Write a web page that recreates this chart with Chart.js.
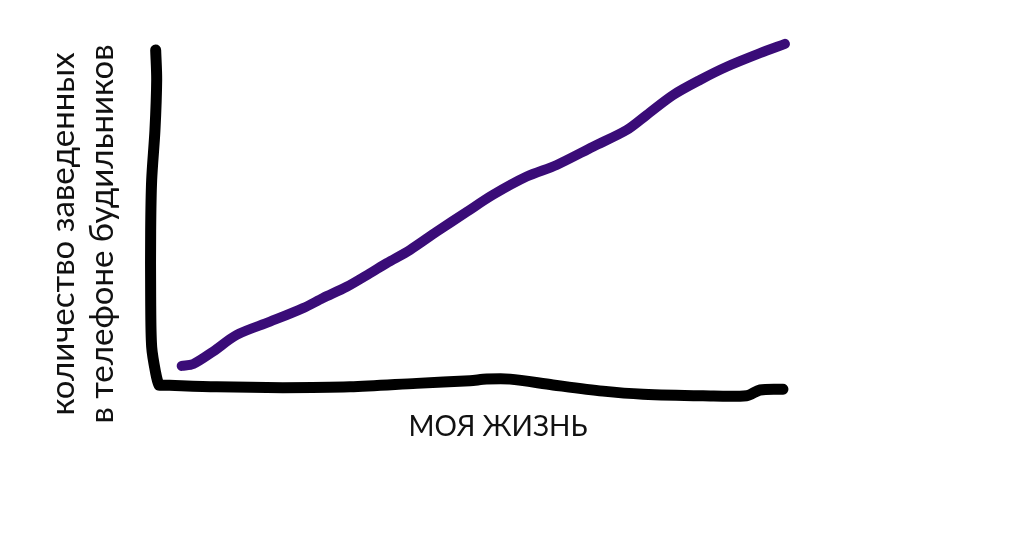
<!DOCTYPE html>
<html lang="ru">
<head>
<meta charset="utf-8">
<title>будильники</title>
<script src="https://cdn.jsdelivr.net/npm/chart.js@4.4.1/dist/chart.umd.min.js"></script>
<style>
  html, body { margin: 0; padding: 0; background: #fff; }
  #wrap { width: 1024px; height: 538px; }
</style>
</head>
<body>
<div id="wrap"><canvas id="chart" width="1024" height="538"></canvas></div>
<script>
// hand-drawn axes (one stroke: down the y axis, then along the x axis)
const axisX = [2.19, 2.33, 2.09, 1.63, 1.49, 1.49, 1.63, 2.19, 2.65,
  3.03, 10.71, 19.97, 29.33, 38.65, 46.09, 48.42, 51.68, 57.68, 64.66, 70.25, 78.63, 84.73, 86.59, 89.8];
const axisY = [97.4, 89.7, 76.8, 63.9, 51.0, 33.8, 20.9, 14.2, 11.1,
  11.1, 10.6, 10.4, 10.6, 11.5, 12.2, 12.6, 12.6, 11.1, 9.5, 8.7, 8.3, 8.3, 9.8, 10.0];

// alarms set on the phone vs. my life
const lifeX = [5.82, 7.44, 10.2, 13.51, 18.16, 22.77, 25.56, 28.87, 32.12, 34.46, 37.71, 41.44,
  45.63, 49.3, 54.01, 58.2, 63.27, 67.97, 70.77, 74.44, 78.21, 81.94, 86.59, 90.08];
const alarmsY = [16.0, 16.5, 19.7, 24.0, 27.4, 30.9, 33.5, 36.4, 39.9, 42.5, 45.9, 50.6,
  55.7, 60.1, 64.8, 67.8, 72.5, 76.8, 80.7, 85.8, 89.7, 93.1, 96.6, 99.0];

const xTitle = "МОЯ ЖИЗНЬ";
const yTitle = ["количество заведенных", "в телефоне будильников"];

const toPoints = (xs, ys) => xs.map((x, i) => ({ x: x, y: ys[i] }));

const ctx = document.getElementById("chart").getContext("2d");

new Chart(ctx, {
  type: "scatter",
  data: {
    datasets: [
      {
        label: "оси",
        data: toPoints(axisX, axisY),
        showLine: true,
        borderColor: "#000000",
        borderWidth: 11,
        borderCapStyle: "round",
        borderJoinStyle: "round",
        pointRadius: 0,
        tension: 0.3,
        clip: false
      },
      {
        label: "будильники",
        data: toPoints(lifeX, alarmsY),
        showLine: true,
        borderColor: "#3a0c78",
        borderWidth: 10,
        borderCapStyle: "round",
        borderJoinStyle: "round",
        pointRadius: 0,
        tension: 0.3,
        clip: false
      }
    ]
  },
  options: {
    responsive: false,
    animation: false,
    layout: { padding: { left: 10, top: 40, right: 168, bottom: 0 } },
    plugins: {
      legend: { display: false },
      tooltip: { enabled: false }
    },
    scales: {
      x: {
        type: "linear",
        min: 0,
        max: 100,
        grid: { display: false, drawTicks: false },
        border: { display: false },
        ticks: { display: false },
        title: {
          display: true,
          text: xTitle,
          color: "#111111",
          font: { family: "Lato", size: 28 },
          padding: { top: -17.8, bottom: 94.2 }
        }
      },
      y: {
        type: "linear",
        min: 0,
        max: 100,
        grid: { display: false, drawTicks: false },
        border: { display: false },
        ticks: { display: false },
        title: {
          display: true,
          text: yTitle,
          color: "#111111",
          font: { family: "Lato", size: 33 },
          padding: { top: 33.2, bottom: 17.6 }
        }
      }
    }
  }
});
</script>
</body>
</html>
